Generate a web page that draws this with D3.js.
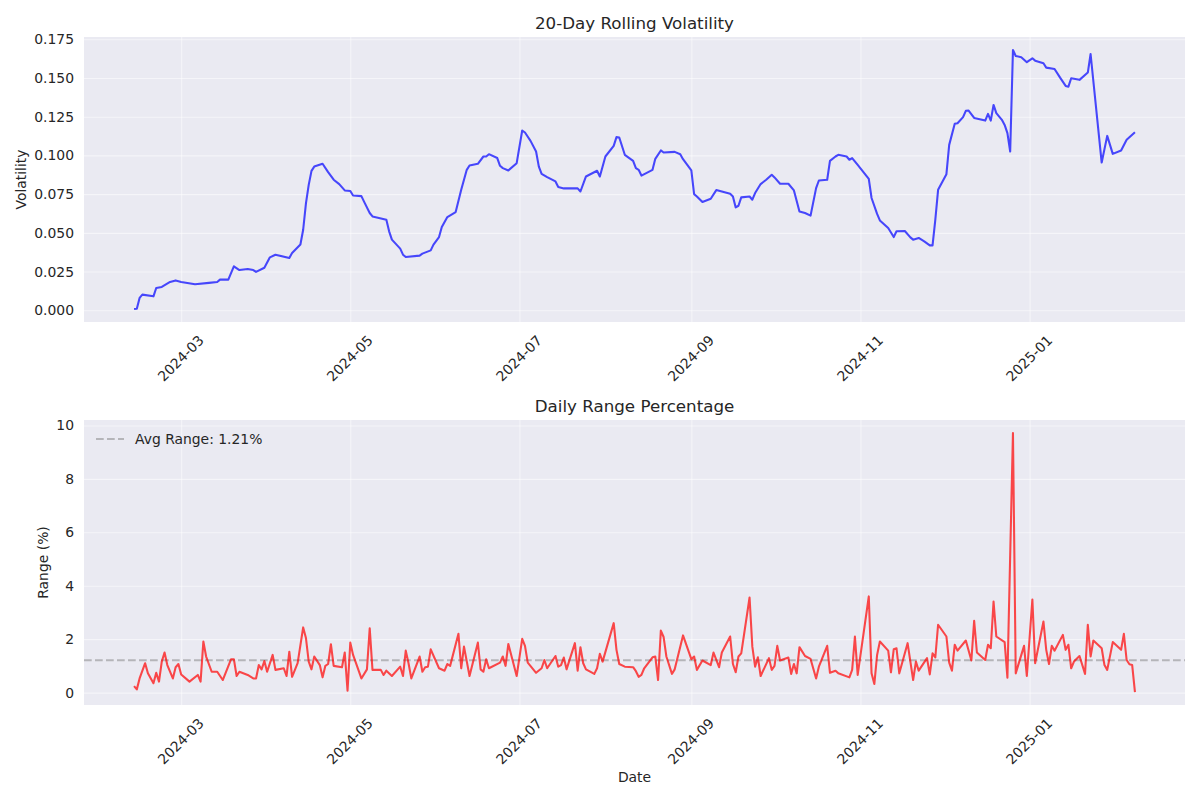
<!DOCTYPE html>
<html><head><meta charset="utf-8">
<script src="https://cdn.jsdelivr.net/npm/d3@7"></script>
<style>
body{margin:0;background:#fff}
text{font-family:"DejaVu Sans",sans-serif;fill:#262626}
</style>
</head><body>
<svg id="chart" width="1200" height="800"></svg>
<script>
// ---------- DATA ----------
const volDates = [
"2024-02-13","2024-02-14","2024-02-15","2024-02-16","2024-02-20","2024-02-21","2024-02-23","2024-02-26","2024-02-28","2024-03-01",
"2024-03-06","2024-03-11","2024-03-14","2024-03-15","2024-03-18","2024-03-20","2024-03-22","2024-03-25","2024-03-27","2024-03-28",
"2024-03-31","2024-04-02","2024-04-04","2024-04-09","2024-04-10","2024-04-13","2024-04-14","2024-04-15","2024-04-16","2024-04-17",
"2024-04-18","2024-04-21","2024-04-23","2024-04-25","2024-04-27","2024-04-29","2024-05-01","2024-05-02","2024-05-05","2024-05-06",
"2024-05-08","2024-05-09","2024-05-14","2024-05-15","2024-05-16","2024-05-19","2024-05-20","2024-05-21","2024-05-26","2024-05-27",
"2024-05-30","2024-05-31","2024-06-02","2024-06-03","2024-06-05","2024-06-08","2024-06-10","2024-06-12","2024-06-13","2024-06-16",
"2024-06-18","2024-06-19","2024-06-20","2024-06-23","2024-06-24","2024-06-25","2024-06-27","2024-06-30","2024-07-02","2024-07-03",
"2024-07-05","2024-07-07","2024-07-08","2024-07-09","2024-07-11","2024-07-14","2024-07-15","2024-07-17","2024-07-22","2024-07-23",
"2024-07-25","2024-07-29","2024-07-30","2024-08-01","2024-08-04","2024-08-05","2024-08-06","2024-08-08","2024-08-11","2024-08-12",
"2024-08-13","2024-08-14","2024-08-18","2024-08-19","2024-08-21","2024-08-22","2024-08-26","2024-08-28","2024-08-29","2024-09-01",
"2024-09-02","2024-09-03","2024-09-05","2024-09-08","2024-09-10","2024-09-12","2024-09-15","2024-09-16","2024-09-17","2024-09-18",
"2024-09-19","2024-09-22","2024-09-23","2024-09-24","2024-09-26","2024-09-28","2024-09-30","2024-10-01","2024-10-03","2024-10-06",
"2024-10-08","2024-10-10","2024-10-12","2024-10-14","2024-10-16","2024-10-17","2024-10-20","2024-10-21","2024-10-23","2024-10-24",
"2024-10-27","2024-10-28","2024-10-29","2024-10-31","2024-11-04","2024-11-05","2024-11-07","2024-11-08","2024-11-11","2024-11-13",
"2024-11-14","2024-11-17","2024-11-19","2024-11-20","2024-11-22","2024-11-24","2024-11-26","2024-11-27","2024-11-28","2024-11-29",
"2024-12-02","2024-12-03","2024-12-05","2024-12-06","2024-12-08","2024-12-09","2024-12-10","2024-12-12","2024-12-14","2024-12-16",
"2024-12-17","2024-12-18","2024-12-19","2024-12-20","2024-12-22","2024-12-23","2024-12-24","2024-12-25","2024-12-26","2024-12-27",
"2024-12-29","2024-12-31","2025-01-02","2025-01-03","2025-01-06","2025-01-07","2025-01-10","2025-01-12","2025-01-14","2025-01-15",
"2025-01-16","2025-01-19","2025-01-22","2025-01-23","2025-01-27","2025-01-29","2025-01-31","2025-02-03","2025-02-05","2025-02-08"
];
const volValues = [
0.0008,0.0010,0.0080,0.0101,0.0090,0.0144,0.0151,0.0183,0.0193,0.0183,
0.0168,0.0177,0.0183,0.0198,0.0198,0.0284,0.0260,0.0267,0.0260,0.0248,
0.0275,0.0342,0.0359,0.0338,0.0370,0.0425,0.0520,0.0690,0.0810,0.0900,
0.0928,0.0946,0.0892,0.0843,0.0815,0.0774,0.0770,0.0741,0.0737,0.0700,
0.0628,0.0606,0.0585,0.0510,0.0456,0.0398,0.0359,0.0344,0.0353,0.0366,
0.0387,0.0424,0.0473,0.0538,0.0602,0.0634,0.0778,0.0907,0.0935,0.0946,
0.0993,0.0993,0.1008,0.0983,0.0933,0.0918,0.0903,0.0950,0.1161,0.1148,
0.1094,0.1025,0.0928,0.0881,0.0860,0.0832,0.0796,0.0787,0.0787,0.0767,
0.0864,0.0901,0.0864,0.0993,0.1062,0.1118,0.1116,0.1004,0.0965,0.0918,
0.0907,0.0870,0.0907,0.0978,0.1032,0.1019,0.1023,0.1008,0.0976,0.0903,
0.0750,0.0735,0.0699,0.0720,0.0776,0.0767,0.0752,0.0735,0.0664,0.0675,
0.0729,0.0735,0.0714,0.0757,0.0815,0.0843,0.0875,0.0858,0.0817,0.0817,
0.0774,0.0638,0.0628,0.0611,0.0789,0.0838,0.0843,0.0965,0.0993,0.1004,
0.0993,0.0972,0.0983,0.0939,0.0849,0.0725,0.0622,0.0580,0.0531,0.0473,
0.0510,0.0512,0.0471,0.0456,0.0467,0.0445,0.0419,0.0419,0.0585,0.0778,
0.0879,0.1068,0.1204,0.1208,0.1247,0.1288,0.1290,0.1242,0.1234,0.1225,
0.1268,0.1225,0.1326,0.1273,0.1230,0.1197,0.1144,0.1025,0.1681,0.1642,
0.1634,0.1602,0.1627,0.1612,0.1595,0.1567,0.1558,0.1502,0.1449,0.1444,
0.1498,0.1488,0.1535,0.1655,0.0954,0.1126,0.1010,0.1032,0.1101,0.1150
];
const rangeDates = [
"2024-02-13","2024-02-14","2024-02-15","2024-02-17","2024-02-18","2024-02-20","2024-02-21","2024-02-22","2024-02-23","2024-02-24",
"2024-02-25","2024-02-27","2024-02-28","2024-02-29","2024-03-01","2024-03-04","2024-03-07","2024-03-08","2024-03-09","2024-03-10",
"2024-03-12","2024-03-14","2024-03-16","2024-03-19","2024-03-20","2024-03-21","2024-03-22","2024-03-25","2024-03-27","2024-03-28",
"2024-03-29","2024-03-30","2024-03-31","2024-04-01","2024-04-03","2024-04-04","2024-04-07","2024-04-08","2024-04-09","2024-04-10",
"2024-04-12","2024-04-14","2024-04-15","2024-04-16","2024-04-17","2024-04-18","2024-04-20","2024-04-21","2024-04-22","2024-04-23",
"2024-04-24","2024-04-25","2024-04-28","2024-04-29","2024-04-30","2024-05-01","2024-05-02","2024-05-05","2024-05-07","2024-05-08",
"2024-05-09","2024-05-12","2024-05-13","2024-05-14","2024-05-16","2024-05-19","2024-05-20","2024-05-21","2024-05-22","2024-05-23",
"2024-05-26","2024-05-27","2024-05-28","2024-05-29","2024-05-30","2024-06-02","2024-06-04","2024-06-05","2024-06-06","2024-06-09",
"2024-06-10","2024-06-11","2024-06-13","2024-06-16","2024-06-17","2024-06-18","2024-06-19","2024-06-20","2024-06-24","2024-06-25",
"2024-06-26","2024-06-27","2024-06-30","2024-07-02","2024-07-03","2024-07-04","2024-07-07","2024-07-09","2024-07-10","2024-07-11",
"2024-07-14","2024-07-15","2024-07-16","2024-07-17","2024-07-18","2024-07-21","2024-07-22","2024-07-23","2024-07-24","2024-07-25",
"2024-07-28","2024-07-29","2024-07-30","2024-07-31","2024-08-04","2024-08-05","2024-08-06","2024-08-08","2024-08-11","2024-08-12",
"2024-08-13","2024-08-14","2024-08-15","2024-08-18","2024-08-19","2024-08-20","2024-08-21","2024-08-22","2024-08-23","2024-08-25",
"2024-08-26","2024-08-29","2024-09-01","2024-09-02","2024-09-03","2024-09-05","2024-09-08","2024-09-09","2024-09-11","2024-09-12",
"2024-09-15","2024-09-16","2024-09-17","2024-09-18","2024-09-19","2024-09-22","2024-09-23","2024-09-24","2024-09-25","2024-09-26",
"2024-09-29","2024-09-30","2024-10-01","2024-10-02","2024-10-03","2024-10-06","2024-10-07","2024-10-08","2024-10-09","2024-10-10",
"2024-10-12","2024-10-14","2024-10-16","2024-10-17","2024-10-20","2024-10-21","2024-10-23","2024-10-24","2024-10-28","2024-10-29",
"2024-10-30","2024-10-31","2024-11-04","2024-11-05","2024-11-06","2024-11-07","2024-11-08","2024-11-11","2024-11-12","2024-11-13",
"2024-11-14","2024-11-15","2024-11-18","2024-11-20","2024-11-21","2024-11-22","2024-11-25","2024-11-26","2024-11-27","2024-11-28",
"2024-11-29","2024-12-02","2024-12-03","2024-12-04","2024-12-05","2024-12-06","2024-12-09","2024-12-11","2024-12-12","2024-12-13",
"2024-12-16","2024-12-17","2024-12-18","2024-12-19","2024-12-20","2024-12-23","2024-12-24","2024-12-26","2024-12-27","2024-12-30",
"2024-12-31","2025-01-02","2025-01-03","2025-01-06","2025-01-07","2025-01-08","2025-01-09","2025-01-10","2025-01-13","2025-01-14",
"2025-01-15","2025-01-16","2025-01-17","2025-01-19","2025-01-21","2025-01-22","2025-01-23","2025-01-24","2025-01-27","2025-01-28",
"2025-01-29","2025-01-31","2025-02-03","2025-02-04","2025-02-05","2025-02-06","2025-02-07","2025-02-08"
];
const rangeValues = [
0.24,0.12,0.53,1.10,0.72,0.35,0.74,0.41,1.16,1.50,
1.03,0.53,0.95,1.07,0.68,0.41,0.66,0.41,1.91,1.35,
0.78,0.78,0.47,1.25,1.25,0.62,0.78,0.66,0.53,0.53,
1.03,0.87,1.18,0.78,1.41,0.85,0.91,0.62,1.53,0.59,
1.10,2.44,2.04,1.16,0.87,1.35,1.03,0.57,1.00,1.07,
1.81,1.00,0.95,1.50,0.07,1.87,1.41,0.53,0.87,2.41,
0.85,0.85,0.66,0.82,0.62,0.97,0.62,1.57,1.10,0.53,
1.35,0.78,0.95,0.97,1.62,0.91,0.82,1.07,1.00,2.20,
0.91,1.72,0.62,1.87,0.87,0.78,1.25,0.91,1.12,1.35,
1.00,1.82,0.62,2.01,1.75,1.12,0.74,0.91,1.22,0.91,
1.37,0.97,1.03,1.31,0.87,1.85,0.82,1.70,1.10,0.87,
0.70,0.91,1.45,1.16,2.60,1.60,1.07,0.97,0.95,0.80,
0.59,0.66,0.91,1.32,1.35,0.47,2.32,2.08,1.35,0.70,
0.87,2.14,1.25,1.35,0.85,1.20,1.03,1.50,0.95,1.50,
2.10,1.07,0.76,1.35,1.47,3.56,1.72,0.97,1.32,0.62,
1.29,0.85,1.00,1.75,1.20,1.31,0.70,1.07,0.72,1.70,
1.37,1.26,0.53,0.97,1.75,0.74,0.82,0.72,0.57,0.85,
2.10,0.66,3.60,0.72,0.32,1.41,1.91,1.57,0.76,1.62,
1.66,0.72,1.85,0.47,1.16,0.82,1.29,0.68,1.47,1.32,
2.54,2.10,1.12,0.82,1.79,1.57,1.95,1.20,2.69,1.50,
1.22,1.79,1.66,3.41,2.10,1.89,0.56,9.72,0.72,1.75,
0.62,3.48,1.10,2.66,1.60,1.07,1.75,1.57,2.16,1.60,
1.79,0.91,1.16,1.37,0.70,2.54,1.35,1.95,1.66,1.03,
0.85,1.89,1.60,2.20,1.22,1.06,1.03,0.02
];
const avgRange = 1.21;
const volTicks = [0, 0.025, 0.05, 0.075, 0.1, 0.125, 0.15, 0.175];
const rangeTicks = [0, 2, 4, 6, 8, 10];
const monthTicks = ["2024-03-01","2024-05-01","2024-07-01","2024-09-01","2024-11-01","2025-01-01"];
const titles = ["20-Day Rolling Volatility", "Daily Range Percentage"];
const yLabels = ["Volatility", "Range (%)"];
const xLabel = "Date";
const legendLabel = "Avg Range: " + avgRange.toFixed(2) + "%";

// ---------- LAYOUT ----------
const svg = d3.select("#chart");
const parse = d3.timeParse("%Y-%m-%d");
const L = 84, R = 1185;
const panels = [
  {top: 37, bottom: 322, dates: volDates, values: volValues, ticks: volTicks, fmt: d3.format(".3f"),
   color: "blue", title: titles[0], ylab: yLabels[0], ylabX: 21},
  {top: 420, bottom: 705, dates: rangeDates, values: rangeValues, ticks: rangeTicks, fmt: d3.format("d"),
   color: "red", title: titles[1], ylab: yLabels[1], ylabX: 43}
];

const allDates = volDates.concat(rangeDates).map(parse);
const xe = d3.extent(allDates);
const xpad = (xe[1] - xe[0]) * 0.05;
const x = d3.scaleTime().domain([new Date(+xe[0] - xpad), new Date(+xe[1] + xpad)]).range([L, R]);
const tickFmt = d3.timeFormat("%Y-%m");
const FS = 13.9;

panels.forEach((p, i) => {
  const ye = d3.extent(p.values);
  const ypad = (ye[1] - ye[0]) * 0.05;
  const y = d3.scaleLinear().domain([ye[0] - ypad, ye[1] + ypad]).range([p.bottom, p.top]);
  const g = svg.append("g");
  g.append("rect").attr("x", L).attr("y", p.top).attr("width", R - L).attr("height", p.bottom - p.top).attr("fill", "#EAEAF2");

  const gy = g.append("g").attr("transform", `translate(${L},0)`)
    .call(d3.axisLeft(y).tickValues(p.ticks).tickSize(-(R - L)).tickFormat(p.fmt).tickPadding(10));
  gy.select(".domain").remove();
  gy.selectAll("line").attr("stroke", "#ffffff").attr("stroke-opacity", 0.5).attr("stroke-width", 1.1);
  gy.selectAll("text").attr("font-size", FS).attr("fill", "#262626").attr("font-family", "DejaVu Sans");

  const gx = g.append("g").attr("transform", `translate(0,${p.bottom})`)
    .call(d3.axisBottom(x).tickValues(monthTicks.map(parse)).tickSize(-(p.bottom - p.top)).tickFormat(tickFmt));
  gx.select(".domain").remove();
  gx.selectAll("line").attr("stroke", "#ffffff").attr("stroke-opacity", 0.5).attr("stroke-width", 1.1);
  gx.selectAll("text").each(function() {
    const t = d3.select(this);
    t.attr("font-size", FS).attr("fill", "#262626").attr("font-family", "DejaVu Sans")
     .attr("y", null).attr("dy", null).attr("text-anchor", "middle").attr("dominant-baseline", "central");
    const w = this.getComputedTextLength();
    const h = FS * 1.15;
    const ext = (w + h) * Math.SQRT1_2;
    t.attr("transform", `translate(-1,${10 + ext / 2}) rotate(-45)`);
  });

  if (i === 1) {
    g.append("line").attr("x1", L).attr("x2", R).attr("y1", y(avgRange)).attr("y2", y(avgRange))
      .attr("stroke", "gray").attr("stroke-opacity", 0.5).attr("stroke-width", 2.08)
      .attr("stroke-dasharray", "7.7,3.3");
  }

  const line = d3.line().x((d, k) => x(parse(p.dates[k]))).y(d => y(d));
  g.append("path").datum(p.values).attr("d", line).attr("fill", "none")
    .attr("stroke", p.color).attr("stroke-opacity", 0.7).attr("stroke-width", 2.08)
    .attr("stroke-linejoin", "round").attr("stroke-linecap", "butt");

  g.append("text").attr("x", (L + R) / 2).attr("y", p.top - 14).attr("text-anchor", "middle")
    .attr("dominant-baseline", "central").attr("font-size", 16.7).text(p.title);
  g.append("text").attr("transform", `translate(${p.ylabX},${(p.top + p.bottom) / 2}) rotate(-90)`)
    .attr("text-anchor", "middle").attr("dominant-baseline", "central").attr("font-size", FS).text(p.ylab);

  if (i === 1) {
    const ly = p.top + 19;
    g.append("line").attr("x1", 96).attr("x2", 124).attr("y1", ly).attr("y2", ly)
      .attr("stroke", "gray").attr("stroke-opacity", 0.5).attr("stroke-width", 2.08).attr("stroke-dasharray", "7.7,3.3");
    g.append("text").attr("x", 135).attr("y", ly).attr("dominant-baseline", "central")
      .attr("font-size", FS).text(legendLabel);
    svg.append("text").attr("x", (L + R) / 2).attr("y", 777).attr("text-anchor", "middle")
      .attr("dominant-baseline", "central").attr("font-size", FS).text(xLabel);
  }
});
</script>
</body></html>
